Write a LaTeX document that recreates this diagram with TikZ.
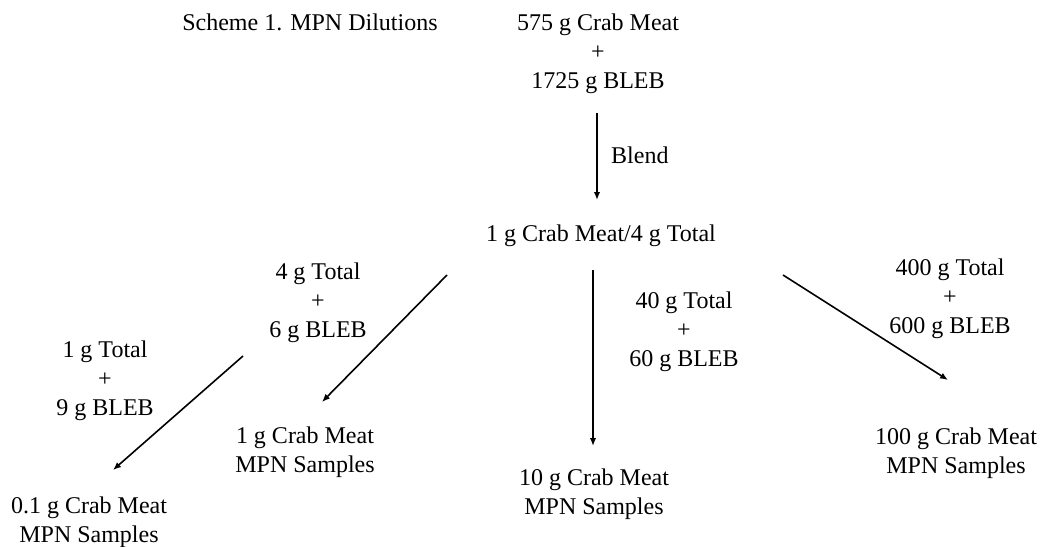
\documentclass[tikz,border=0pt]{standalone}
\usepackage{fontspec}
\setmainfont{Liberation Serif}
\usetikzlibrary{arrows.meta}

\begin{document}
\begin{tikzpicture}[x=1pt,y=-1pt,
    txt/.style={align=center,inner sep=0pt,font=\fontsize{24}{29}\selectfont},
    flow/.style={line width=1.6pt,-{Latex[length=8pt,width=6.5pt]}}]
			%%%%% START %%%%%
			\useasboundingbox (0,0) rectangle (1041,546);
			
			\node[txt] (title) at (310,22) {Scheme 1. MPN Dilutions};
			\node[txt] (crab) at (598,54) {575 g Crab Meat\\+\\1725 g BLEB};
			\node[txt, anchor=west] (blend) at (611,155) {Blend};
			\node[txt] (mix) at (601,236) {1 g Crab Meat/4 g Total};
			
			\node[txt] (add4) at (318,303) {4 g Total\\+\\6 g BLEB};
			\node[txt] (add1) at (105,381) {1 g Total\\+\\9 g BLEB};
			\node[txt] (add40) at (684,332) {40 g Total\\+\\60 g BLEB};
			\node[txt] (add400) at (950,299) {400 g Total\\+\\600 g BLEB};
			
			\node[txt] (s1) at (305,452) {1 g Crab Meat\\MPN Samples};
			\node[txt] (s01) at (89,522) {0.1 g Crab Meat\\MPN Samples};
			\node[txt] (s10) at (594,494) {10 g Crab Meat\\MPN Samples};
			\node[txt] (s100) at (956,453) {100 g Crab Meat\\MPN Samples};
			
			% arrow ends
			\coordinate (blendA) at (597,113);
			\coordinate (blendB) at (597,200);
			\coordinate (downA) at (593,270);
			\coordinate (downB) at (593,446);
			\coordinate (leftA) at (447,275);
			\coordinate (leftB) at (322,402);
			\coordinate (farA) at (243,356);
			\coordinate (farB) at (113,470);
			\coordinate (rightA) at (783,275);
			\coordinate (rightB) at (948,380);
			
			\draw[flow] (blendA) -- (blendB);
			\draw[flow] (downA) -- (downB);
			\draw[flow] (leftA) -- (leftB);
			\draw[flow] (farA) -- (farB);
			\draw[flow] (rightA) -- (rightB);
			
			%%%%% END %%%%%
\end{tikzpicture}
\end{document}
